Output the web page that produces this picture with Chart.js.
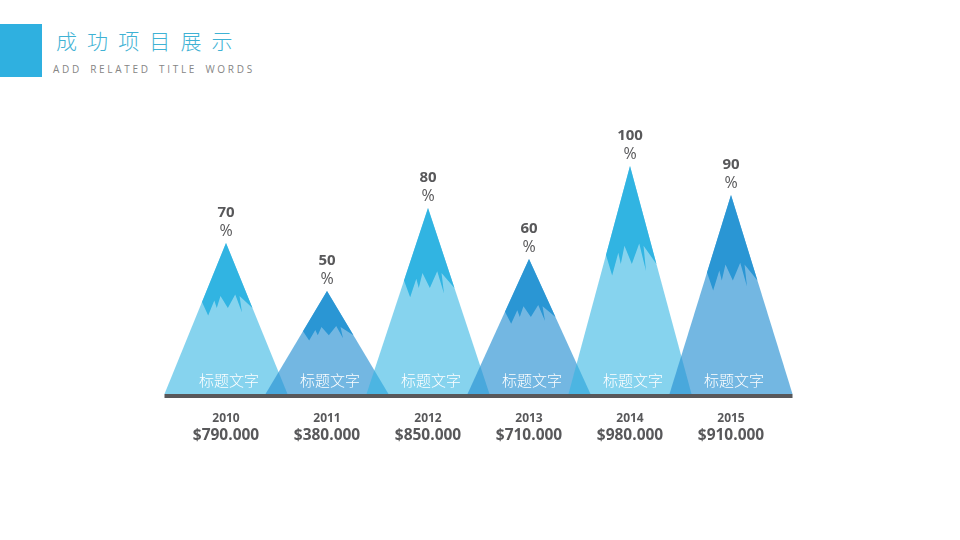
<!DOCTYPE html>
<html>
<head>
<meta charset="utf-8">
<style>
  html, body { margin: 0; background: #fff; }
  #page { position: relative; width: 960px; height: 540px; overflow: hidden; }
  #block { position: absolute; left: 0; top: 24px; width: 42px; height: 53px; background: #2fb0e0; }
  #title { position: absolute; left: 56px; top: 25px; font: 300 21px/30px "Noto Sans CJK SC"; letter-spacing: 10.1px; color: #3fb2d4; white-space: nowrap; }
  #subtitle { position: absolute; left: 53px; top: 62px; font: 10px/14px "Open Sans"; letter-spacing: 2.7px; word-spacing: 3px; color: #858585; white-space: nowrap; }
  canvas { position: absolute; left: 0; top: 0; }
</style>
</head>
<body>
<div id="page">
  <div id="block"></div>
  <div id="title">成功项目展示</div>
  <div id="subtitle">ADD RELATED TITLE WORDS</div>
  <canvas id="chart" width="960" height="540"></canvas>
</div>
<script src="https://cdn.jsdelivr.net/npm/chart.js@4/dist/chart.umd.min.js"></script>
<script>
const years = ['2010', '2011', '2012', '2013', '2014', '2015'];
const percentLabels = ['70', '50', '80', '60', '100', '90'];
const peakHeights = [66.2, 45.2, 81.6, 59.2, 100, 87.3];
const amounts = ['$790.000', '$380.000', '$850.000', '$710.000', '$980.000', '$910.000'];
const captions = ['标题文字', '标题文字', '标题文字', '标题文字', '标题文字', '标题文字'];

const GREY = '#58585a';
const BODY_COLORS = ['rgba(49,180,226,0.59)', 'rgba(42,146,211,0.66)'];
const CAP_COLORS = ['#31b4e2', '#2a96d4'];

// snow line of a peak, as fractions of half width and of height from the tip
const CAP_SHAPE = [
  [0, 0], [-0.39, 0.39], [-0.29, 0.48], [-0.19, 0.38], [-0.15, 0.43], [-0.09, 0.35],
  [0.03, 0.43], [0.15, 0.34], [0.26, 0.46], [0.22, 0.35], [0.43, 0.43],
];

const mountainPlugin = {
  id: 'mountains',
  afterDatasetsDraw(chart) {
    const ctx = chart.ctx;
    const bars = chart.getDatasetMeta(0).data;
    ctx.save();
    bars.forEach((bar, i) => {
      const half = bar.width / 2;
      const h = bar.base - bar.y;
      ctx.fillStyle = BODY_COLORS[i % 2];
      ctx.beginPath();
      ctx.moveTo(bar.x - half, bar.base);
      ctx.lineTo(bar.x, bar.y);
      ctx.lineTo(bar.x + half, bar.base);
      ctx.closePath();
      ctx.fill();

      ctx.fillStyle = CAP_COLORS[i % 2];
      ctx.beginPath();
      CAP_SHAPE.forEach(([u, v]) => ctx.lineTo(bar.x + u * half, bar.y + v * h));
      ctx.closePath();
      ctx.fill();
    });

    // base line under all peaks
    const first = bars[0];
    const last = bars[bars.length - 1];
    ctx.fillStyle = GREY;
    ctx.fillRect(first.x - first.width / 2, first.base, last.x + last.width / 2 - first.x + first.width / 2, 4);

    ctx.textAlign = 'center';
    ctx.textBaseline = 'middle';
    bars.forEach((bar, i) => {
      ctx.fillStyle = '#ffffff';
      ctx.font = '300 15px "Noto Sans CJK SC"';
      ctx.fillText(captions[i], bar.x + 3, bar.base - 14);

      ctx.fillStyle = GREY;
      ctx.font = 'bold 15px "Open Sans"';
      ctx.fillText(percentLabels[i], bar.x, bar.y - 30);
      ctx.font = '16px "Open Sans"';
      ctx.fillText('%', bar.x, bar.y - 12);
      ctx.font = 'bold 15.5px "Open Sans"';
      ctx.fillText(amounts[i], bar.x, bar.base + 42);
    });
    ctx.restore();
  },
};

new Chart(document.getElementById('chart'), {
  type: 'bar',
  data: {
    labels: years,
    datasets: [{
      data: peakHeights,
      backgroundColor: 'transparent',
      barPercentage: 1.218,
      categoryPercentage: 1,
    }],
  },
  plugins: [mountainPlugin],
  options: {
    responsive: false,
    animation: false,
    layout: { padding: { left: 175.5, right: 178.5, top: 166, bottom: 0 } },
    plugins: { legend: { display: false }, tooltip: { enabled: false } },
    scales: {
      x: {
        afterFit(scale) { scale.height = 146; },
        grid: { display: false },
        border: { display: false },
        ticks: {
          autoSkip: false,
          maxRotation: 0,
          padding: 9,
          color: GREY,
          font: { family: '"Open Sans"', size: 12, weight: 'bold' },
        },
      },
      y: { display: false, min: 0, max: 100 },
    },
  },
});
</script>
</body>
</html>
